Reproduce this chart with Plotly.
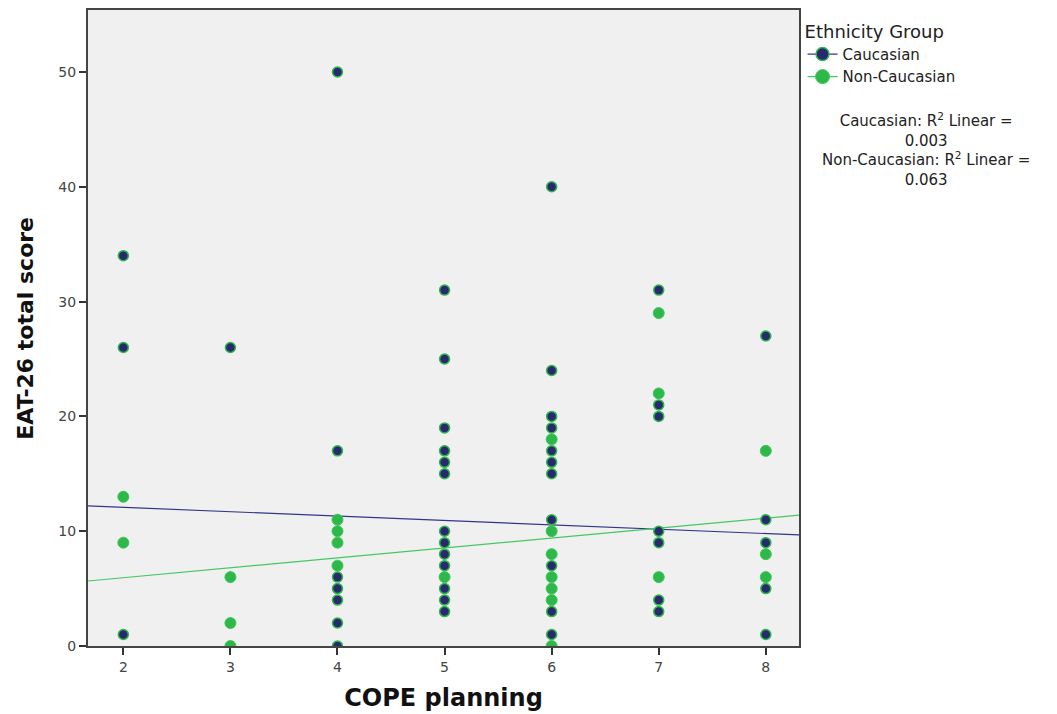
import plotly.graph_objects as go

# ---- data ----
cau_x = ([2] * 3 + [3] * 1 + [4] * 7 + [5] * 13 + [6] * 11 + [7] * 7 + [8] * 5)
cau_y = [34, 26, 1,
         26,
         50, 17, 6, 5, 4, 2, 0,
         31, 25, 19, 17, 16, 15, 10, 9, 8, 7, 5, 4, 3,
         40, 24, 20, 19, 17, 16, 15, 11, 7, 3, 1,
         31, 21, 20, 10, 9, 4, 3,
         27, 11, 9, 5, 1]

non_x = ([2] * 2 + [3] * 3 + [4] * 4 + [5] * 1 + [6] * 7 + [7] * 3 + [8] * 3)
non_y = [13, 9,
         6, 2, 0,
         11, 10, 9, 7,
         6,
         18, 10, 8, 6, 5, 4, 0,
         29, 22, 6,
         17, 8, 6]

# fitted lines (intercept, slope)
cau_fit = (12.84, -0.381)
non_fit = (4.22, 0.864)
r2_cau = "0.003"
r2_non = "0.063"

x_range = [1.67, 8.31]
y_range = [0, 55.4]
x_ticks = [2, 3, 4, 5, 6, 7, 8]
y_ticks = [0, 10, 20, 30, 40, 50]

NAVY = "#29296f"
GREEN = "#2fb84a"
GREEN_EDGE = "#3cc85a"
NAVY_LINE = "#34348a"
GREEN_LINE = "#45c862"

fig = go.Figure()

# regression lines
for (b0, b1), col in [(cau_fit, NAVY_LINE), (non_fit, GREEN_LINE)]:
    fig.add_trace(go.Scatter(
        x=x_range, y=[b0 + b1 * x_range[0], b0 + b1 * x_range[1]],
        mode="lines", line=dict(color=col, width=1.2),
        showlegend=False, hoverinfo="skip"))

fig.add_trace(go.Scatter(
    x=non_x, y=non_y, mode="markers", showlegend=False,
    marker=dict(size=11, color=GREEN, line=dict(color=GREEN_EDGE, width=1))))
fig.add_trace(go.Scatter(
    x=cau_x, y=cau_y, mode="markers", showlegend=False,
    marker=dict(size=10, color=NAVY, line=dict(color=GREEN, width=1.5))))

# legend entries
fig.add_trace(go.Scatter(
    x=[None], y=[None], mode="lines+markers", name="Caucasian",
    line=dict(color=NAVY_LINE, width=1.2),
    marker=dict(size=13, color=NAVY, line=dict(color=GREEN, width=1.5))))
fig.add_trace(go.Scatter(
    x=[None], y=[None], mode="lines+markers", name="Non-Caucasian",
    line=dict(color=GREEN_LINE, width=1.2),
    marker=dict(size=14, color=GREEN, line=dict(color=GREEN_EDGE, width=1))))

fig.add_annotation(
    xref="paper", yref="paper", x=1.178, y=0.781,
    xanchor="center", yanchor="middle", showarrow=False, align="center",
    text=f"Caucasian: R<sup>2</sup> Linear =<br>{r2_cau}<br>"
         f"Non-Caucasian: R<sup>2</sup> Linear =<br>{r2_non}",
    font=dict(family="DejaVu Sans", size=15, color="#222"))

# y-axis title placed as rotated text
fig.add_annotation(
    xref="paper", yref="paper", x=-0.089, y=0.5,
    xanchor="center", yanchor="middle", showarrow=False, textangle=-90,
    text="<b>EAT-26 total score</b>",
    font=dict(family="DejaVu Sans", size=22, color="#111"))

axis_common = dict(
    showgrid=False, zeroline=False, showline=True, linecolor="#444",
    linewidth=2, mirror=True, ticks="outside", ticklen=7, tickwidth=1.5,
    tickcolor="#333", tickfont=dict(family="DejaVu Sans", size=14, color="#444"))

fig.update_xaxes(range=x_range, tickvals=x_ticks,
                 title=dict(text="<b>COPE planning</b>", standoff=15,
                            font=dict(family="DejaVu Sans", size=24, color="#111")),
                 **axis_common)
fig.update_yaxes(range=y_range, tickvals=y_ticks, **axis_common)

# the page body adds an 8px offset, so the figure is sized 8px smaller
fig.update_layout(
    width=1049, height=706,
    margin=dict(l=80, r=258, t=0, b=68),
    plot_bgcolor="#f0f0f0", paper_bgcolor="white",
    legend=dict(x=1.005, y=0.993, xanchor="left", yanchor="top",
                title=dict(text="Ethnicity Group",
                           font=dict(family="DejaVu Sans", size=18, color="#222")),
                font=dict(family="DejaVu Sans", size=15, color="#222"),
                itemwidth=30, tracegroupgap=0, bgcolor="rgba(0,0,0,0)"),
)

fig.write_html("out.html")
